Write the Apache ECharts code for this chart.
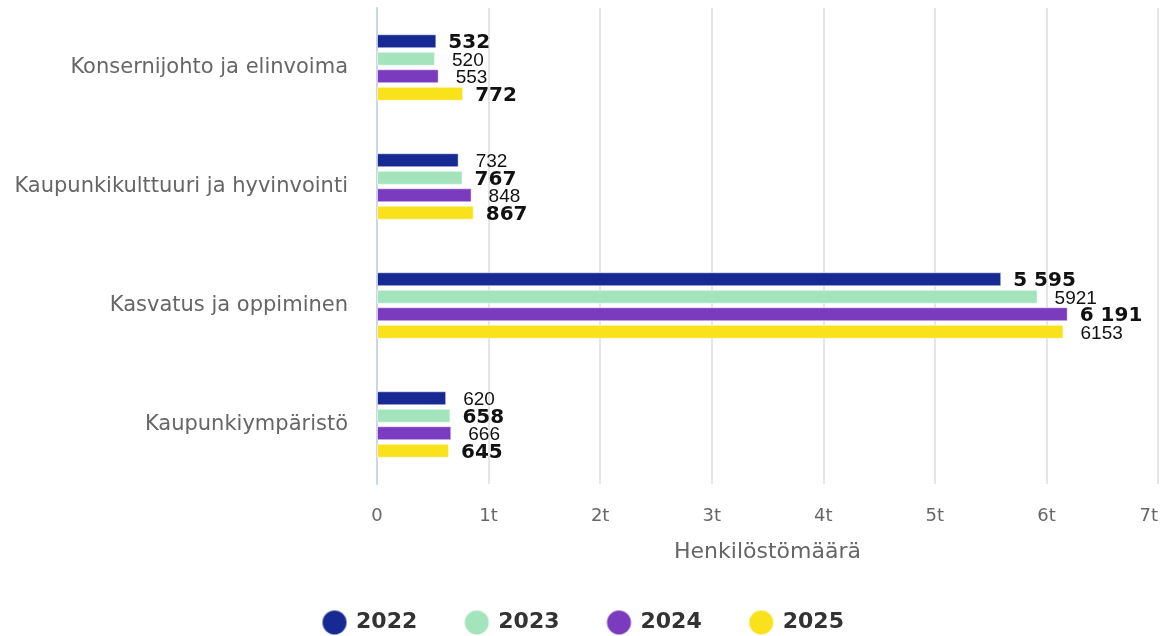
<!DOCTYPE html>
<html><head><meta charset="utf-8">
<script src="https://cdn.jsdelivr.net/npm/echarts@6/dist/echarts.min.js"></script>
<style>html,body{margin:0;padding:0;background:#fff}#c{width:1165px;height:636px}</style>
</head><body><div id="c"></div>
<script>
const categories = ['Konsernijohto ja elinvoima','Kaupunkikulttuuri ja hyvinvointi','Kasvatus ja oppiminen','Kaupunkiympäristö'];
const years = ['2022','2023','2024','2025'];
const v2022 = [532, 732, 5595, 620];
const v2023 = [520, 767, 5921, 658];
const v2024 = [553, 848, 6191, 666];
const v2025 = [772, 867, 6153, 645];
const labels2022 = ['532','732','5 595','620'];
const labels2023 = ['520','767','5921','658'];
const labels2024 = ['553','848','6 191','666'];
const labels2025 = ['772','867','6153','645'];
const bold2022 = [true,false,true,false];
const bold2023 = [false,true,false,true];
const bold2024 = [false,false,true,false];
const bold2025 = [true,true,false,true];
const xTicks = ['0','1t','2t','3t','4t','5t','6t','7t'];
const colors = ['#172a94','#a3e4bc','#7a3bbf','#f9e21b'];

const allVals = [v2022,v2023,v2024,v2025];
const allLabels = [labels2022,labels2023,labels2024,labels2025];
const allBold = [bold2022,bold2023,bold2024,bold2025];

const series = years.map((y,si)=>({
  name:y, type:'bar', barWidth:14, barGap:'25%', barCategoryGap:'42%',
  itemStyle:{color:colors[si], borderColor:'rgba(255,255,255,0.5)', borderWidth:1},
  data: allVals[si].map((v,i)=>({
    value:v,
    label:{show:true, position:'right', distance: allBold[si][i] ? 12 : 17, offset:[0,2],
      formatter: allLabels[si][i],
      fontFamily: allBold[si][i] ? 'DejaVu Sans' : 'Liberation Sans',
      fontWeight: allBold[si][i] ? 'bold' : 'normal',
      fontSize: allBold[si][i] ? 20 : 19, color:'#111'}
  }))
}));

const chart = echarts.init(document.getElementById('c'), null, {renderer:'canvas'});
chart.setOption({
  animation:false,
  color: colors,
  grid:{left:377, right:7, top:8, bottom:152, containLabel:false},
  legend:{bottom:0, padding:0, left:'center', icon:'circle', itemWidth:25, itemHeight:25, itemGap:46,
    textStyle:{fontSize:22, fontWeight:'bold', color:'#333', fontFamily:'DejaVu Sans', padding:[0,0,0,4]}, data:years},
  xAxis:{type:'value', min:0, max:7000, interval:1000,
    name:'Henkilöstömäärä', nameLocation:'middle', nameGap:57,
    nameTextStyle:{fontSize:22, color:'#666', fontFamily:'DejaVu Sans'},
    axisLine:{show:false}, axisTick:{show:false},
    axisLabel:{fontSize:18, color:'#666', margin:23, fontFamily:'DejaVu Sans', alignMaxLabel:'right',
      formatter:(v)=>xTicks[Math.round(v/1000)]},
    splitLine:{lineStyle:{color:'#e6e6e6', width:2}}},
  yAxis:{type:'category', data:categories, inverse:true,
    axisLine:{show:true, lineStyle:{color:'#ccd6eb', width:2}}, axisTick:{show:false},
    axisLabel:{fontSize:21, color:'#666', margin:29, fontFamily:'DejaVu Sans', padding:[7,0,0,0]}},
  series: series
});
</script></body></html>
